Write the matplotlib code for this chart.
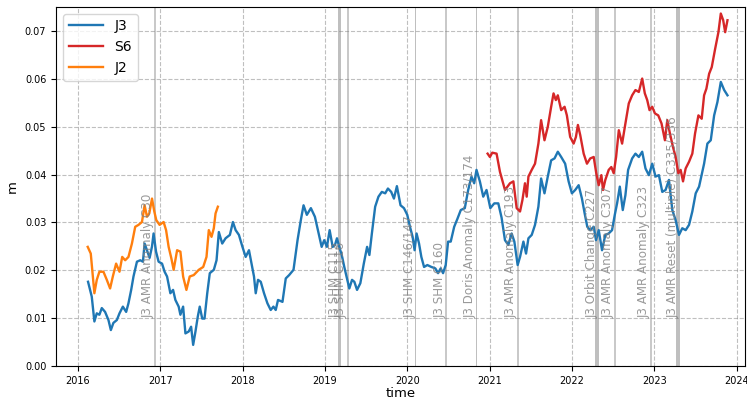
import numpy as np
import matplotlib
matplotlib.use("Agg")
import matplotlib.pyplot as plt

# ============================================================
# 1. Data (decimal years, metres)
# ============================================================
j3_time = [
    2016.122, 2016.167, 2016.199, 2016.228, 2016.260, 2016.289, 2016.329, 2016.370, 2016.399, 2016.430,
    2016.472, 2016.504, 2016.545, 2016.585, 2016.613, 2016.646, 2016.674, 2016.716, 2016.756, 2016.789,
    2016.809, 2016.838, 2016.870, 2016.899, 2016.918, 2016.948, 2016.979, 2017.021, 2017.052, 2017.082,
    2017.122, 2017.155, 2017.183, 2017.223, 2017.244, 2017.277, 2017.305, 2017.345, 2017.374, 2017.399,
    2017.427, 2017.455, 2017.479, 2017.509, 2017.537, 2017.570, 2017.601, 2017.650, 2017.683, 2017.711,
    2017.752, 2017.793, 2017.845, 2017.882, 2017.915, 2017.955, 2017.996, 2018.037, 2018.077, 2018.138,
    2018.159, 2018.187, 2018.220, 2018.260, 2018.301, 2018.341, 2018.374, 2018.402, 2018.430, 2018.484,
    2018.524, 2018.565, 2018.618, 2018.667, 2018.707, 2018.740, 2018.780, 2018.829, 2018.878, 2018.923,
    2018.960, 2018.991, 2019.024, 2019.057, 2019.094, 2019.122, 2019.146, 2019.174, 2019.204, 2019.235,
    2019.277, 2019.296, 2019.329, 2019.357, 2019.390, 2019.430, 2019.472, 2019.512, 2019.540, 2019.570,
    2019.610, 2019.650, 2019.691, 2019.732, 2019.765, 2019.805, 2019.838, 2019.874, 2019.918, 2019.960,
    2020.000, 2020.033, 2020.065, 2020.089, 2020.113, 2020.143, 2020.171, 2020.204, 2020.244, 2020.293,
    2020.341, 2020.374, 2020.406, 2020.435, 2020.467, 2020.496, 2020.528, 2020.570, 2020.610, 2020.650,
    2020.699, 2020.740, 2020.780, 2020.813, 2020.841, 2020.882, 2020.923, 2020.963, 2021.009, 2021.057,
    2021.106, 2021.146, 2021.187, 2021.228, 2021.268, 2021.301, 2021.341, 2021.370, 2021.411, 2021.443,
    2021.472, 2021.512, 2021.552, 2021.593, 2021.626, 2021.667, 2021.707, 2021.748, 2021.789, 2021.829,
    2021.870, 2021.918, 2021.960, 2022.000, 2022.040, 2022.082, 2022.122, 2022.155, 2022.187, 2022.223,
    2022.265, 2022.293, 2022.326, 2022.366, 2022.406, 2022.447, 2022.488, 2022.521, 2022.549, 2022.582,
    2022.618, 2022.650, 2022.683, 2022.732, 2022.772, 2022.813, 2022.854, 2022.894, 2022.935, 2022.976,
    2023.016, 2023.057, 2023.098, 2023.138, 2023.179, 2023.220, 2023.260, 2023.301, 2023.341, 2023.382,
    2023.423, 2023.463, 2023.504, 2023.545, 2023.606, 2023.646, 2023.687, 2023.728, 2023.768, 2023.809,
    2023.850, 2023.890,
]
j3_vals = [
    0.0176, 0.0145, 0.0093, 0.0110, 0.0107, 0.0121, 0.0113, 0.0096, 0.0075, 0.0090,
    0.0096, 0.0110, 0.0124, 0.0113, 0.0131, 0.0159, 0.0187, 0.0218, 0.0221, 0.0218,
    0.0256, 0.0242, 0.0226, 0.0250, 0.0277, 0.0239, 0.0218, 0.0214, 0.0197, 0.0187,
    0.0152, 0.0159, 0.0138, 0.0124, 0.0107, 0.0124, 0.0068, 0.0072, 0.0082, 0.0044,
    0.0072, 0.0103, 0.0124, 0.0099, 0.0099, 0.0152, 0.0194, 0.0201, 0.0221, 0.0280,
    0.0256, 0.0267, 0.0274, 0.0301, 0.0284, 0.0274, 0.0250, 0.0228, 0.0242, 0.0187,
    0.0152, 0.0180, 0.0176, 0.0152, 0.0131, 0.0117, 0.0124, 0.0117, 0.0138, 0.0134,
    0.0183, 0.0190, 0.0201, 0.0263, 0.0305, 0.0336, 0.0316, 0.0330, 0.0312, 0.0277,
    0.0249, 0.0263, 0.0249, 0.0284, 0.0249, 0.0253, 0.0267, 0.0249, 0.0232, 0.0207,
    0.0176, 0.0162, 0.0180, 0.0176, 0.0159, 0.0173, 0.0214, 0.0249, 0.0232, 0.0277,
    0.0333, 0.0354, 0.0364, 0.0361, 0.0371, 0.0364, 0.0350, 0.0376, 0.0336, 0.0330,
    0.0316, 0.0291, 0.0270, 0.0242, 0.0277, 0.0256, 0.0228, 0.0207, 0.0211, 0.0207,
    0.0204, 0.0194, 0.0204, 0.0194, 0.0211, 0.0260, 0.0260, 0.0291, 0.0308, 0.0326,
    0.0330, 0.0368, 0.0396, 0.0382, 0.0410, 0.0386, 0.0354, 0.0368, 0.0330, 0.0340,
    0.0340, 0.0310, 0.0263, 0.0253, 0.0277, 0.0260, 0.0211, 0.0228, 0.0260, 0.0235,
    0.0267, 0.0274, 0.0295, 0.0333, 0.0392, 0.0361, 0.0396, 0.0430, 0.0434, 0.0448,
    0.0437, 0.0423, 0.0386, 0.0361, 0.0368, 0.0378, 0.0350, 0.0319, 0.0291, 0.0284,
    0.0291, 0.0263, 0.0284, 0.0242, 0.0274, 0.0277, 0.0284, 0.0316, 0.0340, 0.0375,
    0.0326, 0.0357, 0.0410, 0.0434, 0.0444, 0.0437, 0.0448, 0.0413, 0.0399, 0.0423,
    0.0396, 0.0399, 0.0364, 0.0368, 0.0389, 0.0326, 0.0305, 0.0274, 0.0288, 0.0284,
    0.0295, 0.0323, 0.0361, 0.0375, 0.0423, 0.0465, 0.0472, 0.0524, 0.0552, 0.0594,
    0.0577, 0.0566,
]

s6_time = [
    2020.976, 2021.004, 2021.033, 2021.085, 2021.126, 2021.187, 2021.248, 2021.289, 2021.329, 2021.370,
    2021.399, 2021.430, 2021.451, 2021.472, 2021.512, 2021.552, 2021.593, 2021.626, 2021.667, 2021.707,
    2021.748, 2021.777, 2021.805, 2021.829, 2021.870, 2021.911, 2021.939, 2021.979, 2022.021, 2022.049,
    2022.073, 2022.101, 2022.143, 2022.183, 2022.223, 2022.265, 2022.296, 2022.326, 2022.358, 2022.378,
    2022.406, 2022.447, 2022.479, 2022.508, 2022.537, 2022.570, 2022.610, 2022.650, 2022.691, 2022.732,
    2022.772, 2022.813, 2022.854, 2022.886, 2022.915, 2022.943, 2022.976, 2023.009, 2023.049, 2023.089,
    2023.130, 2023.159, 2023.191, 2023.228, 2023.260, 2023.293, 2023.321, 2023.350, 2023.382, 2023.423,
    2023.463, 2023.496, 2023.537, 2023.577, 2023.606, 2023.634, 2023.667, 2023.699, 2023.740, 2023.780,
    2023.809, 2023.838, 2023.862, 2023.890,
]
s6_vals = [
    0.0444, 0.0437, 0.0446, 0.0444, 0.0406, 0.0368, 0.0382, 0.0386, 0.0330, 0.0323,
    0.0347, 0.0382, 0.0354, 0.0396, 0.0410, 0.0423, 0.0465, 0.0514, 0.0472, 0.0500,
    0.0542, 0.0570, 0.0556, 0.0566, 0.0535, 0.0542, 0.0524, 0.0479, 0.0465, 0.0479,
    0.0504, 0.0483, 0.0444, 0.0423, 0.0434, 0.0437, 0.0403, 0.0378, 0.0399, 0.0368,
    0.0389, 0.0410, 0.0416, 0.0403, 0.0437, 0.0493, 0.0465, 0.0507, 0.0549, 0.0566,
    0.0577, 0.0573, 0.0601, 0.0570, 0.0556, 0.0535, 0.0542, 0.0528, 0.0524, 0.0507,
    0.0472, 0.0514, 0.0486, 0.0458, 0.0437, 0.0403, 0.0410, 0.0386, 0.0413, 0.0427,
    0.0444, 0.0486, 0.0524, 0.0517, 0.0566, 0.0580, 0.0611, 0.0625, 0.0663, 0.0698,
    0.0737, 0.0723, 0.0698, 0.0723,
]

j2_time = [
    2016.118, 2016.155, 2016.199, 2016.228, 2016.260, 2016.309, 2016.350, 2016.390, 2016.423, 2016.463,
    2016.504, 2016.537, 2016.573, 2016.613, 2016.655, 2016.695, 2016.735, 2016.777, 2016.809, 2016.838,
    2016.866, 2016.899, 2016.927, 2016.951, 2016.991, 2017.040, 2017.070, 2017.101, 2017.134, 2017.162,
    2017.204, 2017.244, 2017.277, 2017.317, 2017.357, 2017.406, 2017.467, 2017.521, 2017.561, 2017.589,
    2017.622, 2017.650, 2017.671, 2017.699,
]
j2_vals = [
    0.0249, 0.0235, 0.0152, 0.0180, 0.0197, 0.0197, 0.0180, 0.0162, 0.0187, 0.0214,
    0.0197, 0.0228, 0.0221, 0.0228, 0.0256, 0.0291, 0.0295, 0.0301, 0.0336, 0.0312,
    0.0319, 0.0350, 0.0323, 0.0305, 0.0295, 0.0301, 0.0284, 0.0249, 0.0225, 0.0201,
    0.0242, 0.0239, 0.0187, 0.0159, 0.0187, 0.0190, 0.0201, 0.0207, 0.0228, 0.0284,
    0.0270, 0.0288, 0.0319, 0.0333,
]

# events: label, start, end (start == end -> single line)
event_labels = [
    "J3 AMR Anomaly C30", "J3 SHM C115", "J3 SHM C116", "J3 SHM C146/147", "J3 SHM C160",
    "J3 Doris Anomaly C173/174", "J3 AMR Anomaly C193", "J3 Orbit Change C227",
    "J3 AMR Anomaly C307", "J3 AMR Anomaly C323", "J3 AMR Reset (multiple) C335/336",
]
event_start = [2016.93, 2019.16, 2019.28, 2020.09, 2020.475, 2020.835, 2021.34, 2022.28, 2022.52, 2022.955, 2023.27]
event_end = [2016.93, 2019.20, 2019.28, 2020.11, 2020.475, 2020.845, 2021.34, 2022.33, 2022.52, 2022.955, 2023.31]

year_ticks = list(range(2016, 2025))

# ============================================================
# 2. Plot
# ============================================================
fig = plt.figure(figsize=(7.47, 4.03), dpi=100)
ax = fig.add_axes([0.075, 0.092, 0.922, 0.891])

for lab, t0, t1 in zip(event_labels, event_start, event_end):
    if t1 > t0:
        ax.axvspan(t0, t1, color="gray", alpha=0.5, lw=0)
    else:
        ax.axvline(t0, color="gray", alpha=0.5, lw=1.2)
    ax.text(t1, 0.01, lab, rotation=90, ha="right", va="bottom",
            fontsize=8.6, color="gray", alpha=0.8)

ax.plot(j3_time, j3_vals, color="tab:blue", lw=1.7, label="J3")
ax.plot(s6_time, s6_vals, color="tab:red", lw=1.7, label="S6")
ax.plot(j2_time, j2_vals, color="tab:orange", lw=1.7, label="J2")

ax.set_xlim(2015.733, 2024.10)
ax.set_ylim(0, 0.0751)
ax.set_xticks(year_ticks)
ax.set_xticklabels([str(y) for y in year_ticks])
ax.set_yticks(np.arange(0, 0.071, 0.01))
ax.yaxis.set_major_formatter(plt.FormatStrFormatter("%.2f"))
ax.tick_params(labelsize=7)
ax.grid(True, linestyle="--", color="gray", alpha=0.5, lw=0.8)
ax.set_xlabel("time", fontsize=9.5, labelpad=1)
ax.set_ylabel("m", fontsize=9.5)
ax.legend(loc="upper left", fontsize=10, handlelength=2.5)

plt.savefig("out.png", dpi=100)
plt.close()
